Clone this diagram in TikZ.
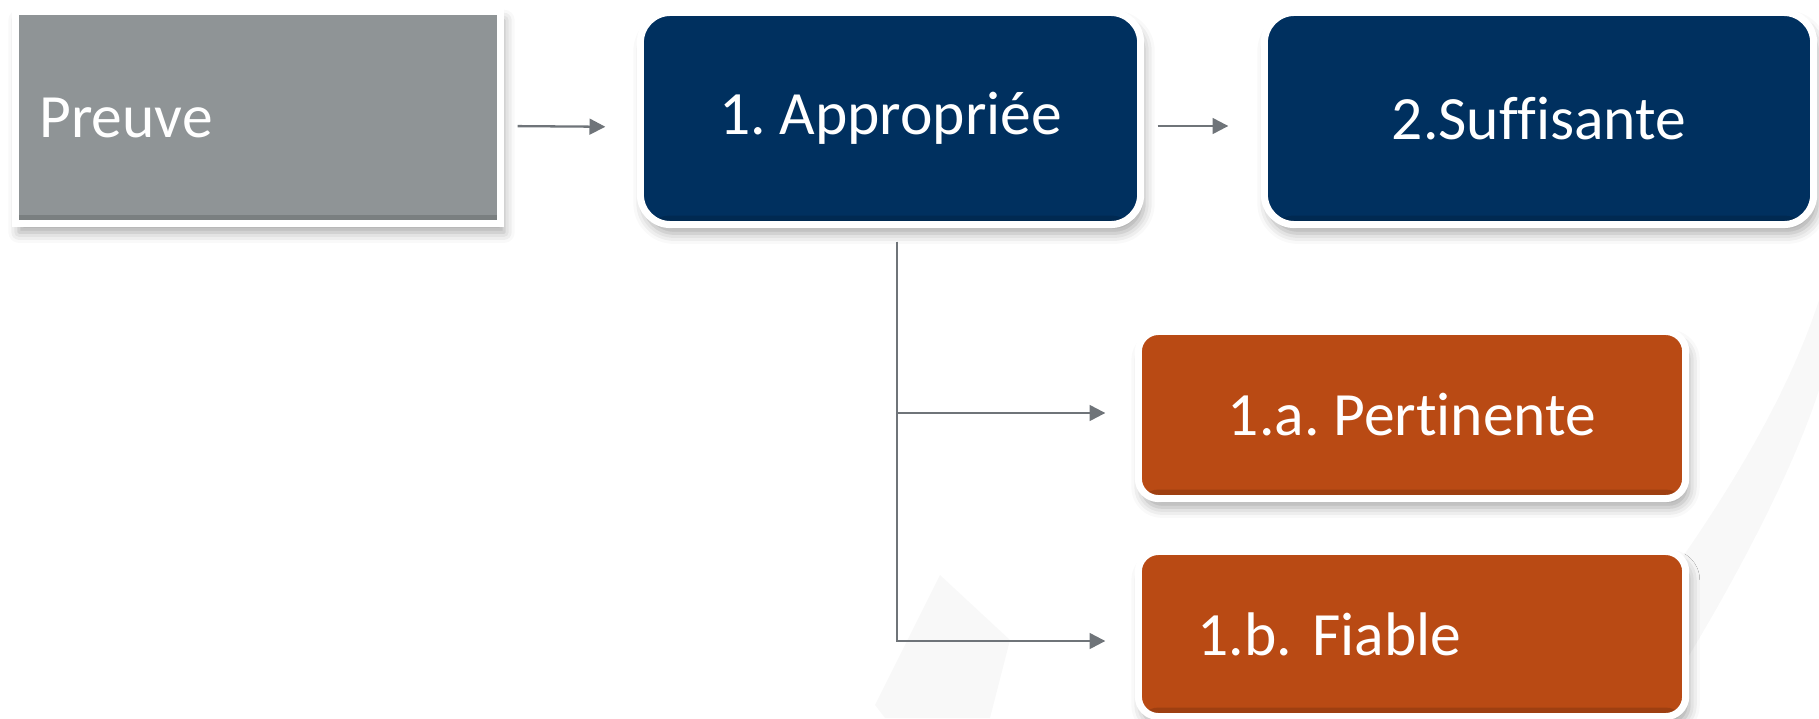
\documentclass[tikz,border=0pt]{standalone}
\usepackage{fontspec}
\setmainfont{Carlito}[Ligatures=NoCommon]
\frenchspacing
\usetikzlibrary{arrows.meta,shadows.blur}
\definecolor{proofgray}{HTML}{8F9496}
\definecolor{navy}{HTML}{00305F}
\definecolor{rust}{HTML}{B94A14}
\definecolor{linkgray}{HTML}{6F7479}
\definecolor{watermark}{HTML}{F8F8F8}
\tikzset{
  box/.style={draw=white, line width=2pt, text=white, inner sep=0pt,
    font=\fontsize{17.5}{21}\selectfont,
    blur shadow={shadow xshift=1pt, shadow yshift=-2.5pt, shadow blur radius=3pt, shadow opacity=35},
    path picture={\fill[black, opacity=0.14] (path picture bounding box.south west) rectangle ([yshift=0.09cm]path picture bounding box.south east);}},
  link/.style={draw=linkgray, line width=0.65pt, -{Triangle[length=4.5pt,width=4.5pt]}}
}
\begin{document}
\begin{tikzpicture}[x=0.01cm, y=-0.01cm]
\useasboundingbox (0,0) rectangle (1819,718);
\fill[fill=watermark] (1560,718) .. controls (1690,560) and (1780,420) .. (1819,300) -- (1819,390) .. controls (1790,480) and (1720,610) .. (1650,718) -- cycle;
\fill[fill=watermark] (875,705) -- (940,575) -- (1010,640) -- (990,718) -- (885,718) -- cycle;
\node[box, fill=proofgray, minimum width=4.85cm, minimum height=2.12cm, text width=4.37cm, align=left] (preuve) at (258,117.5) {Preuve};
\node[box, fill=navy, rounded corners=0.3cm, minimum width=5.00cm, minimum height=2.12cm] (approp) at (890.5,118.5) {1.\ Appropriée};
\node[box, fill=navy, rounded corners=0.3cm, minimum width=5.49cm, minimum height=2.12cm] (suff) at (1539,118.5) {2.Suffisante};
\node[box, fill=rust, rounded corners=0.2cm, minimum width=5.47cm, minimum height=1.67cm] (pert) at (1412,415) {1.a.\ Pertinente};
\node[box, fill=rust, rounded corners=0.2cm, minimum width=5.47cm, minimum height=1.65cm, text width=4.29cm, align=left] (fiable) at (1412,634) {1.b.\ Fiable};
\draw[link, shorten <=0.135cm, shorten >=0.315cm] ([yshift=-0.085cm]preuve.east) -- ([yshift=-0.085cm]approp.west);
\draw[link, shorten <=0.135cm, shorten >=0.325cm] ([yshift=-0.075cm]approp.east) -- ([yshift=-0.075cm]suff.west);
\coordinate (trunk) at ([xshift=0.065cm, yshift=-0.135cm]approp.south);
\draw[link, shorten >=0.295cm] (trunk) |- ([yshift=0.02cm]pert.west);
\draw[link, shorten >=0.295cm] (trunk) |- ([yshift=-0.07cm]fiable.west);
\end{tikzpicture}
\end{document}
